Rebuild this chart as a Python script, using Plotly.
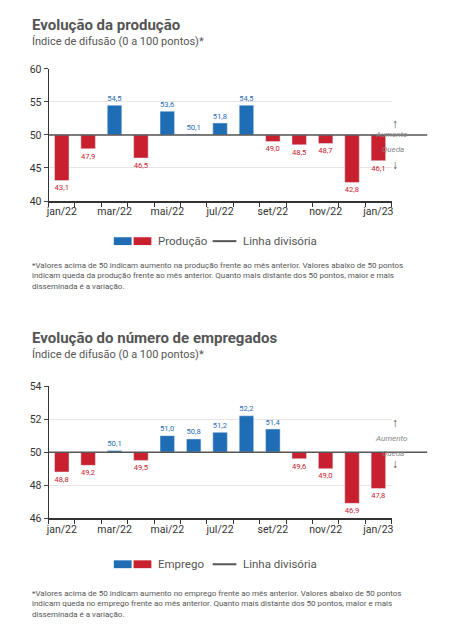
import plotly.graph_objects as go

months = ["jan/22","fev/22","mar/22","abr/22","mai/22","jun/22","jul/22","ago/22","set/22","out/22","nov/22","dez/22","jan/23"]
producao = [43.1,47.9,54.5,46.5,53.6,50.1,51.8,54.5,49.0,48.5,48.7,42.8,46.1]
emprego = [48.8,49.2,50.1,49.5,51.0,50.8,51.2,52.2,51.4,49.6,49.0,46.9,47.8]
tick_idx = [0,2,4,6,8,10,12]

BLUE = "#1f6db5"; RED = "#c8202f"; GRAY = "#555555"
FONT = "Roboto, sans-serif"
W, H = 436, 622
def px(x): return (x - 8) / W
def py(y): return 1 - (y - 8) / H

fig = go.Figure()
x = list(range(len(months)))
for vals, xa, ya in [(producao, "x", "y"), (emprego, "x2", "y2")]:
    cols = [BLUE if v > 50 else RED for v in vals]
    fig.add_trace(go.Bar(x=x, y=[v - 50 for v in vals], base=50, marker_color=cols,
                         width=0.55, text=[f"{v:.1f}".replace(".", ",") for v in vals],
                         textposition="outside", textfont=dict(color=cols, size=10, family=FONT),
                         cliponaxis=False, xaxis=xa, yaxis=ya, showlegend=False))

xcommon = dict(range=[-0.5, 12.5], tickvals=tick_idx, ticktext=[months[i] for i in tick_idx],
               showgrid=False, showline=True, linecolor="#333", linewidth=1.5, ticks="",
               tickfont=dict(size=10.5, color="#333", family=FONT),
               minor=dict(ticks="outside", tick0=-0.5, dtick=1, ticklen=4, tickcolor="#333"),
               domain=[px(46), px(393)], fixedrange=True)
fig.update_layout(
    width=W, height=H, margin=dict(l=0, r=0, t=0, b=0),
    plot_bgcolor="white", paper_bgcolor="white", font=dict(family=FONT, color=GRAY),
    xaxis=dict(xcommon, anchor="y"), xaxis2=dict(xcommon, anchor="y2"),
    yaxis=dict(range=[40, 60], dtick=5, domain=[py(199), py(64)], gridcolor="#e6e6e6",
               showline=True, linecolor="#333", ticks="outside", ticklen=4,
               tickfont=dict(size=10.5, color="#333"), zeroline=False),
    yaxis2=dict(range=[46, 54], dtick=2, domain=[py(523), py(388)], gridcolor="#e6e6e6",
                showline=True, linecolor="#333", ticks="outside", ticklen=4,
                tickfont=dict(size=10.5, color="#333"), zeroline=False),
)

shapes = []; ann = []
notes = [
    "*Valores acima de 50 indicam aumento na produção frente ao mês anterior. Valores abaixo de 50 pontos<br>indicam queda da produção frente ao mês anterior. Quanto mais distante dos 50 pontos, maior e mais<br>disseminada é a variação.",
    "*Valores acima de 50 indicam aumento no emprego frente ao mês anterior. Valores abaixo de 50 pontos<br>indicam queda no emprego frente ao mês anterior. Quanto mais distante dos 50 pontos, maior e mais<br>disseminada é a variação.",
]
blocks = [("Evolução da produção", "Produção", "y", 0, 131, 240),
          ("Evolução do número de empregados", "Emprego", "y2", 320, 455, 570)]
for k, (title, leg, yr, off, yline, yleg) in enumerate(blocks):
    ann.append(dict(x=px(27), y=py(off + 19), xref="paper", yref="paper", text="<b>" + title + "</b>",
                    showarrow=False, xanchor="left", yanchor="middle", font=dict(size=15, color=GRAY)))
    ann.append(dict(x=px(27), y=py(off + 36), xref="paper", yref="paper", text="Índice de difusão (0 a 100 pontos)*",
                    showarrow=False, xanchor="left", yanchor="middle", font=dict(size=11, color=GRAY)))
    shapes.append(dict(type="line", xref="paper", yref=yr, x0=px(46), x1=px(429), y0=50, y1=50,
                       line=dict(color="#555", width=1.5)))
    ann += [dict(x=px(402), y=py(yline - 20), xref="paper", yref="paper", text="<b>↑</b>", showarrow=False, font=dict(size=12, color="#444")),
            dict(x=px(412), y=py(yline - 7), xref="paper", yref="paper", text="<i>Aumento</i>", showarrow=False, font=dict(size=8, color="#888")),
            dict(x=px(408), y=py(yline + 9), xref="paper", yref="paper", text="<i>Queda</i>", showarrow=False, font=dict(size=8, color="#888")),
            dict(x=px(402), y=py(yline + 22), xref="paper", yref="paper", text="<b>↓</b>", showarrow=False, font=dict(size=12, color="#444"))]
    shapes.append(dict(type="rect", xref="paper", yref="paper", x0=px(112), x1=px(130), y0=py(yleg - 4), y1=py(yleg + 4), fillcolor=BLUE, line_width=0))
    shapes.append(dict(type="rect", xref="paper", yref="paper", x0=px(132), x1=px(150), y0=py(yleg - 4), y1=py(yleg + 4), fillcolor=RED, line_width=0))
    ann.append(dict(x=px(155), y=py(yleg), xref="paper", yref="paper", text=leg, showarrow=False, xanchor="left", yanchor="middle", font=dict(size=11.5, color=GRAY)))
    shapes.append(dict(type="line", xref="paper", yref="paper", x0=px(212), x1=px(236), y0=py(yleg), y1=py(yleg), line=dict(color="#555", width=2)))
    ann.append(dict(x=px(241), y=py(yleg), xref="paper", yref="paper", text="Linha divisória", showarrow=False, xanchor="left", yanchor="middle", font=dict(size=11.5, color=GRAY)))
    ann.append(dict(x=px(27), y=py(off + 258 if k == 0 else off + 273), xref="paper", yref="paper", text=notes[k],
                    showarrow=False, xanchor="left", yanchor="top", align="left", font=dict(size=8, color=GRAY)))
fig.update_layout(shapes=shapes, annotations=ann)
fig.write_html("out.html")
